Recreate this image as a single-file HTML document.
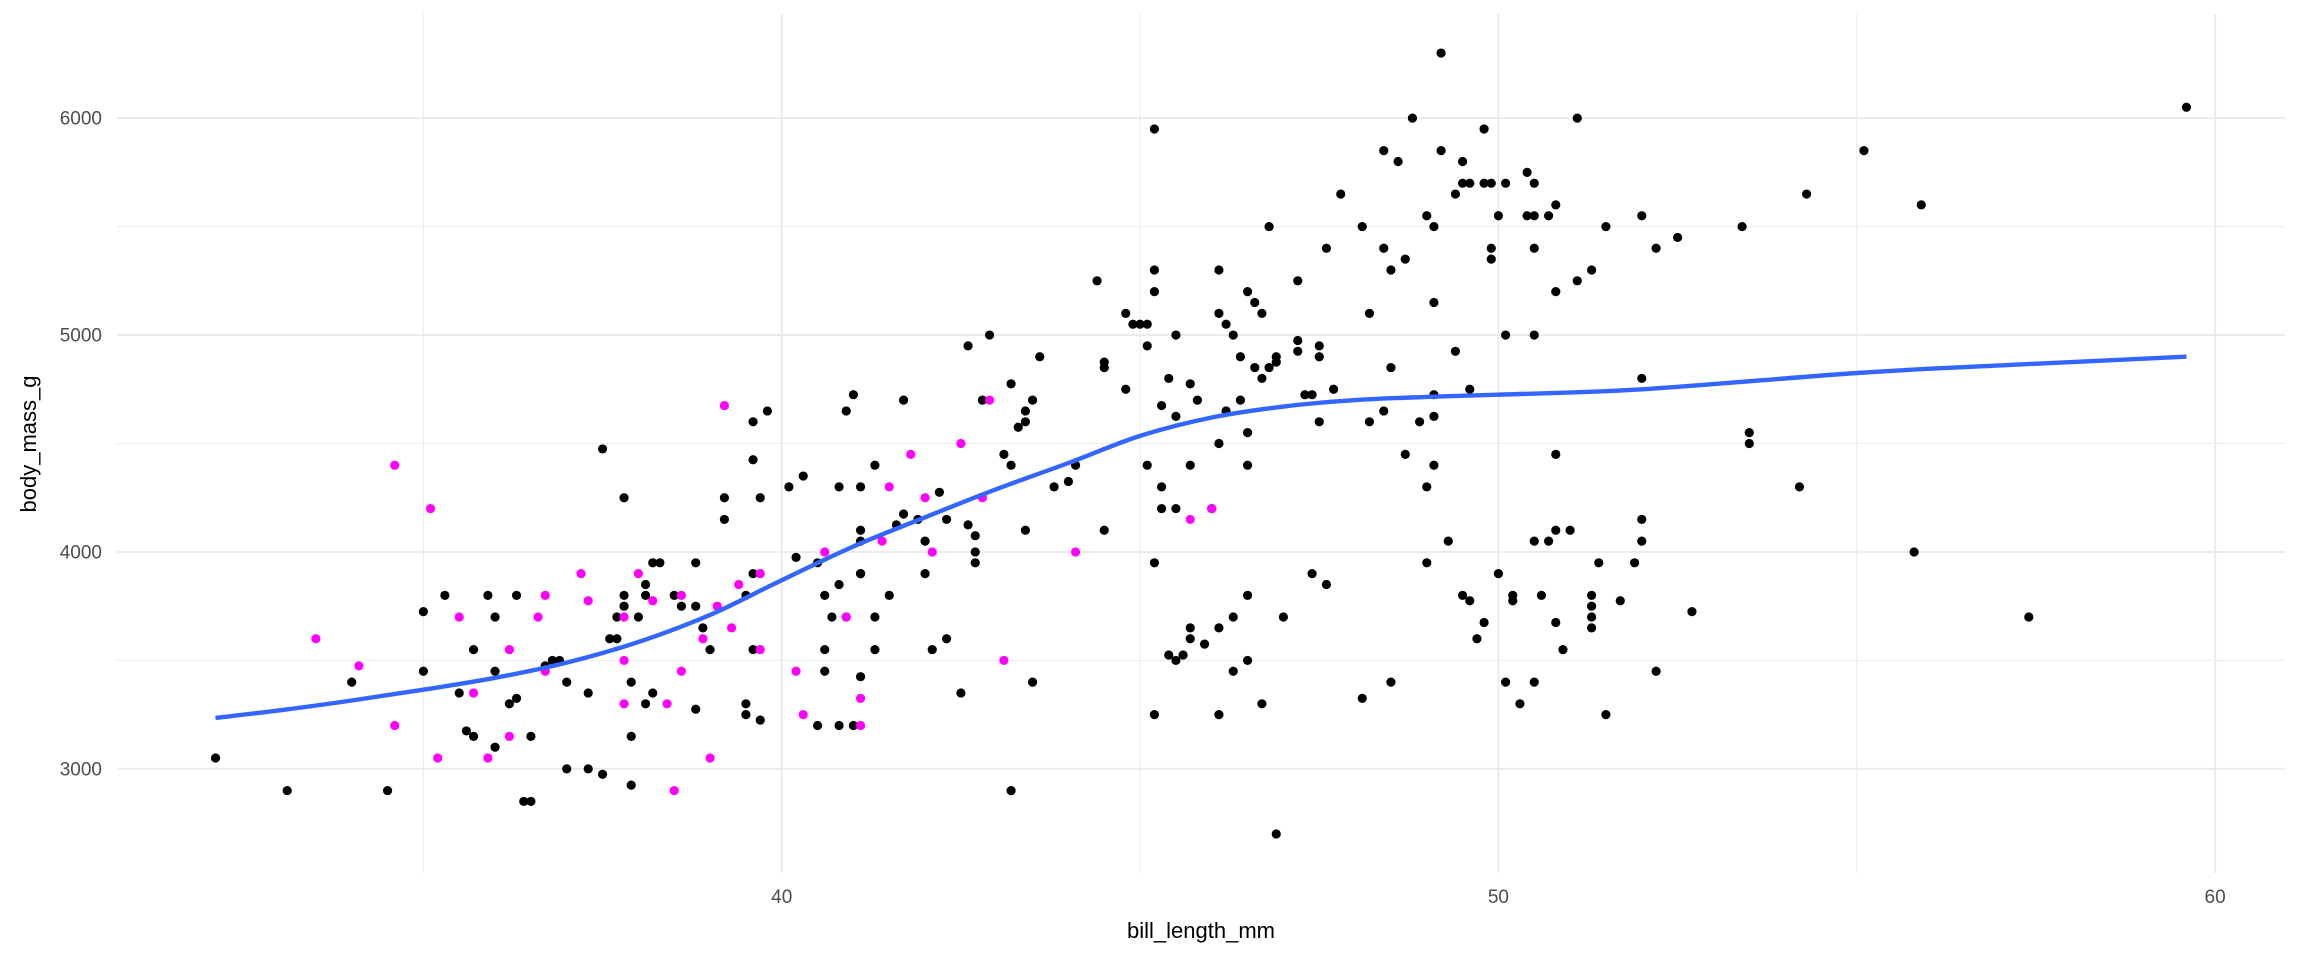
<!DOCTYPE html>
<html><head><meta charset="utf-8"><style>
html,body{margin:0;padding:0;background:#fff;}
svg{display:block;font-family:"Liberation Sans",sans-serif;}
</style></head><body>
<svg id="chart" width="2304" height="960" viewBox="0 0 2304 960" xmlns="http://www.w3.org/2000/svg">
<rect width="2304" height="960" fill="#fff"/>
<g id="grid"></g>
<g id="pts"></g>
<g id="smooth"></g>
<g id="axes"></g>
<text x="1201" y="938" font-size="22" text-anchor="middle" fill="#000">bill_length_mm</text>
<text x="0" y="0" font-size="22" text-anchor="middle" fill="#000" transform="translate(36,444) rotate(-90)">body_mass_g</text>
</svg>
<script>
const xTicks=[40,50,60];
const xMinor=[35,45,55];
const yTicks=[3000,4000,5000,6000];
const yMinor=[3500,4500,5500];
const blackX=[32.1,33.1,34.0,34.5,35.0,35.0,35.3,35.5,35.6,35.7,35.7,35.9,36.0,36.0,36.0,36.2,36.3,36.4,36.5,36.3,36.5,36.7,36.8,36.9,37.0,37.0,37.3,37.3,37.5,37.5,37.6,37.7,37.7,37.8,37.8,37.8,37.9,37.9,37.9,38.0,38.1,38.1,38.1,38.2,38.3,38.2,38.5,38.6,38.8,38.8,38.8,38.9,39.0,39.2,39.2,39.5,39.5,39.5,39.6,39.6,39.6,39.6,39.7,39.7,39.8,40.1,40.2,40.3,40.5,40.5,40.6,40.6,40.6,40.7,40.8,40.8,40.9,40.8,40.9,41.0,41.0,41.1,41.1,41.1,41.1,41.1,41.1,41.3,41.3,41.3,41.5,41.7,41.6,41.7,41.9,42.0,42.0,42.1,42.2,42.3,42.3,42.5,42.6,42.6,42.7,42.7,42.7,42.8,42.9,43.1,43.2,43.2,43.2,43.3,43.4,43.4,43.4,43.5,43.5,43.6,43.8,44.0,44.1,44.4,44.5,44.5,44.5,44.8,44.8,44.9,45.0,45.1,45.1,45.1,45.2,45.2,45.2,45.2,45.2,45.3,45.3,45.3,45.4,45.4,45.5,45.5,45.5,45.5,45.6,45.7,45.7,45.7,45.7,45.8,45.9,46.0,46.1,46.1,46.1,46.1,46.1,46.2,46.2,46.3,46.3,46.3,46.4,46.4,46.5,46.5,46.5,46.5,46.5,46.6,46.6,46.7,46.7,46.7,46.8,46.8,46.9,46.9,46.9,47.0,47.2,47.2,47.2,47.3,47.4,47.4,47.5,47.5,47.5,47.6,47.6,47.7,47.8,48.1,48.1,48.2,48.2,48.4,48.4,48.4,48.5,48.5,48.5,48.6,48.7,48.7,48.8,48.9,49.0,49.0,49.0,49.1,49.1,49.1,49.1,49.1,49.2,49.2,49.3,49.4,49.4,49.5,49.5,49.5,49.6,49.6,49.6,49.7,49.8,49.8,49.8,49.9,49.9,49.9,50.0,50.0,50.1,50.1,50.1,50.2,50.2,50.3,50.4,50.4,50.5,50.5,50.5,50.5,50.5,50.5,50.6,50.7,50.7,50.8,50.8,50.8,50.8,50.8,50.9,51.0,51.1,51.1,51.3,51.3,51.3,51.3,51.3,51.4,51.5,51.5,51.7,51.9,52.0,52.0,52.0,52.0,52.2,52.2,52.5,52.7,53.4,53.5,53.5,54.2,54.3,55.1,55.8,55.9,57.4,59.6];
const blackY=[3050,2900,3400,2900,3450,3725,3800,3350,3175,3550,3150,3800,3700,3100,3450,3300,3800,2850,2850,3325,3150,3475,3500,3500,3400,3000,3000,3350,2975,4475,3600,3600,3700,3800,4250,3750,3400,3150,2925,3700,3800,3300,3850,3950,3950,3350,3800,3750,3275,3950,3750,3650,3550,4150,4250,3300,3250,3800,3900,3550,4425,4600,3225,4250,4650,4300,3975,4350,3950,3200,3550,3800,3450,3700,3850,4300,4650,3200,3700,4725,3200,3900,4100,3900,3425,4300,4050,3700,4400,3550,3800,4700,4125,4175,4150,4050,3900,3550,4275,4150,3600,3350,4950,4125,4000,3950,4075,4700,5000,4450,4400,4775,2900,4575,4100,4600,4650,4700,3400,4900,4300,4325,4400,5250,4875,4850,4100,5100,4750,5050,5050,5050,4950,4400,5950,5300,5200,3950,3250,4300,4200,4675,4800,3525,5000,4625,4200,3500,3525,4775,3600,3650,4400,4700,3575,4200,5100,3250,5300,4500,3650,4650,5050,5000,3700,3450,4900,4700,5200,4550,3800,3500,4400,5150,4850,3300,4800,5100,5500,4850,2700,4875,4900,3700,5250,4925,4975,4725,4725,3900,4900,4950,4600,3850,5400,4750,5650,5500,3325,5100,4600,5850,5400,4650,5300,4850,3400,5800,4450,5350,6000,4600,4300,3950,5550,5150,5500,4725,4400,4625,6300,5850,4050,4925,5650,5800,3800,5700,4750,3775,5700,3600,5950,5700,3675,5400,5700,5350,3900,5550,3400,5000,5700,3800,3775,3300,5750,5550,5700,5550,4050,5000,3400,5400,3800,4050,5550,4100,5600,5200,4450,3675,3550,4100,6000,5250,3800,3750,3700,3650,5300,3950,3250,5500,3775,3950,4150,4800,4050,5550,3450,5400,5450,3725,5500,4550,4500,4300,5650,5850,4000,5600,3700,6050];
const magX=[34.6,34.6,34.1,33.5,35.1,35.2,35.5,35.7,35.9,36.2,36.2,36.6,36.7,36.7,37.2,37.3,37.8,37.8,37.8,38.0,38.2,38.4,38.5,38.6,38.6,38.9,39.0,39.1,39.2,39.3,39.4,39.7,39.7,40.2,40.3,40.6,40.9,41.1,41.1,41.4,41.5,41.8,42.0,42.1,42.5,42.8,42.9,43.1,44.1,45.7,46.0];
const magY=[4400,3200,3475,3600,4200,3050,3700,3350,3050,3550,3150,3700,3800,3450,3900,3775,3700,3500,3300,3900,3775,3300,2900,3450,3800,3600,3050,3750,4675,3650,3850,3550,3900,3450,3250,4000,3700,3325,3200,4050,4300,4450,4250,4000,4500,4250,4700,3500,4000,4150,4200];
const fitX=[32.1,33,34,35,36,37,38,39,40,41,42,43,44,45,46,47,48,49,50,52,55,57,59.6];
const fitY=[3235,3270,3315,3365,3420,3490,3585,3710,3870,4025,4160,4290,4410,4535,4620,4670,4700,4715,4725,4750,4825,4860,4900];

const NS='http://www.w3.org/2000/svg';
const X0=30.725,X1=60.975,PX0=117,PX1=2285;
const Y0=2520,Y1=6480,PY0=873,PY1=14;
const sx=v=>PX0+(v-X0)/(X1-X0)*(PX1-PX0);
const sy=v=>PY0+(v-Y0)/(Y1-Y0)*(PY1-PY0);
function mk(tag,attrs,parent){const e=document.createElementNS(NS,tag);for(const k in attrs)e.setAttribute(k,attrs[k]);parent.appendChild(e);return e;}
const grid=document.getElementById('grid'),axes=document.getElementById('axes');
xMinor.forEach(v=>{const l=mk('line',{x1:sx(v),x2:sx(v),y1:PY1,y2:PY0,stroke:'#ebebeb','stroke-width':1},grid);

});
yMinor.forEach(v=>{const l=mk('line',{x1:PX0,x2:PX1,y1:sy(v),y2:sy(v),stroke:'#ebebeb','stroke-width':1},grid);

});
xTicks.forEach(v=>{const l=mk('line',{x1:sx(v),x2:sx(v),y1:PY1,y2:PY0,stroke:'#ebebeb','stroke-width':2},grid);


const t=mk('text',{x:sx(v),y:903,'font-size':19,'text-anchor':'middle',fill:'#4d4d4d'},axes);t.textContent=v;

});
yTicks.forEach(v=>{const l=mk('line',{x1:PX0,x2:PX1,y1:sy(v),y2:sy(v),stroke:'#ebebeb','stroke-width':2},grid);


const t=mk('text',{x:102,y:sy(v)+6.5,'font-size':19,'text-anchor':'end',fill:'#4d4d4d'},axes);t.textContent=v;

});
const pts=document.getElementById('pts');
blackX.forEach((v,i)=>{const c=mk('circle',{cx:sx(v),cy:sy(blackY[i]),r:4.6,fill:'#000'},pts);

});
magX.forEach((v,i)=>{const c=mk('circle',{cx:sx(v),cy:sy(magY[i]),r:4.6,fill:'#ff00ff'},pts);

});
const P=fitX.map((v,i)=>[sx(v),sy(fitY[i])]);
let d='M'+P[0][0].toFixed(1)+','+P[0][1].toFixed(1);
for(let i=0;i<P.length-1;i++){const p0=P[Math.max(0,i-1)],p1=P[i],p2=P[i+1],p3=P[Math.min(P.length-1,i+2)];
const c1=[p1[0]+(p2[0]-p0[0])/6,p1[1]+(p2[1]-p0[1])/6],c2=[p2[0]-(p3[0]-p1[0])/6,p2[1]-(p3[1]-p1[1])/6];
d+='C'+c1[0].toFixed(1)+','+c1[1].toFixed(1)+' '+c2[0].toFixed(1)+','+c2[1].toFixed(1)+' '+p2[0].toFixed(1)+','+p2[1].toFixed(1);}
const p=mk('path',{d:d,fill:'none',stroke:'#3366ff','stroke-width':4.4,'stroke-linejoin':'round'},document.getElementById('smooth'));


</script>
</body></html>
